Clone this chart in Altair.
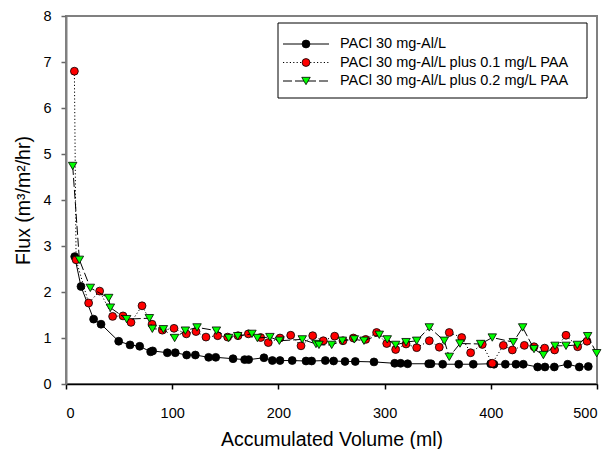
import altair as alt
import pandas as pd

# ---- data ----
series_names = [
    "PACl 30 mg-Al/L",
    "PACl 30 mg-Al/L plus 0.1 mg/L PAA",
    "PACl 30 mg-Al/L plus 0.2 mg/L PAA",
]

black_x = [8.2, 14.1, 26.0, 33.0, 49.6, 60.3, 69.4, 79.7, 81.6, 95.4, 102.9, 113.6, 121.8,
           134.3, 141.0, 157.3, 168.2, 172.0, 186.4, 194.3, 201.5, 213.0, 226.0, 231.3,
           244.2, 252.0, 262.7, 272.4, 290.0, 309.5, 315.1, 321.7, 341.5, 343.7, 354.7,
           369.8, 383.5, 399.9, 403.0, 413.7, 423.7, 430.6, 444.1, 451.0, 459.8, 472.4,
           483.3, 491.8]
black_y = [2.77, 2.12, 1.41, 1.30, 0.93, 0.85, 0.82, 0.70, 0.72, 0.68, 0.68, 0.63, 0.63,
           0.58, 0.58, 0.55, 0.53, 0.53, 0.57, 0.51, 0.51, 0.51, 0.50, 0.50,
           0.51, 0.50, 0.49, 0.49, 0.48, 0.45, 0.45, 0.44, 0.44, 0.44, 0.43,
           0.43, 0.43, 0.44, 0.43, 0.43, 0.43, 0.43, 0.37, 0.37, 0.37, 0.43,
           0.37, 0.38]

red_x = [7.9, 9.5, 21.3, 31.7, 43.9, 53.7, 61.2, 71.6, 81.0, 90.7, 101.7, 113.3, 122.4,
         131.8, 142.8, 152.2, 162.0, 171.7, 183.3, 190.5, 201.5, 211.6, 221.3, 232.3,
         242.3, 253.0, 260.8, 270.6, 282.2, 292.5, 302.0, 310.4, 320.2, 330.2, 342.1,
         351.5, 360.9, 372.6, 381.0, 392.0, 401.4, 411.8, 420.3, 431.6, 440.7, 450.7,
         460.1, 470.8, 481.8, 490.6]
red_y = [6.80, 2.70, 1.76, 2.02, 1.47, 1.48, 1.34, 1.70, 1.30, 1.17, 1.21, 1.09, 1.14,
         1.02, 1.05, 1.02, 1.05, 1.09, 1.01, 0.90, 1.00, 1.06, 0.83, 1.05,
         0.94, 1.04, 0.94, 1.00, 0.97, 1.12, 0.88, 0.75, 0.87, 0.79, 0.94,
         0.80, 1.12, 1.01, 0.68, 0.86, 0.45, 0.84, 0.74, 0.84, 0.81, 0.78,
         0.74, 1.06, 0.81, 0.93]

green_x = [6.3, 12.6, 22.9, 40.2, 41.8, 57.1, 78.5, 81.3, 91.7, 102.3, 112.4, 123.4, 141.6,
           153.2, 161.7, 175.1, 180.2, 192.0, 200.9, 222.5, 235.4, 238.2, 250.2, 260.2,
           271.5, 280.6, 295.0, 302.5, 310.4, 320.2, 330.2, 342.1, 356.2, 360.9, 371.0,
           390.5, 401.4, 421.2, 430.0, 440.7, 449.5, 460.5, 470.8, 481.5, 491.2, 499.7]
green_y = [4.74, 2.70, 2.09, 1.87, 1.66, 1.41, 1.43, 1.20, 1.19, 1.00, 1.16, 1.23, 1.16,
           1.00, 1.04, 1.09, 1.00, 1.02, 0.94, 0.97, 0.87, 0.85, 0.85, 0.94,
           0.97, 0.94, 1.07, 0.97, 0.85, 0.91, 0.94, 1.23, 0.94, 0.59, 0.88,
           0.87, 1.01, 0.91, 1.23, 0.76, 0.63, 0.83, 0.83, 0.85, 1.04, 0.67]

x_ticks = [0, 100, 200, 300, 400, 500]
y_ticks = [0, 1, 2, 3, 4, 5, 6, 7, 8]

FONT = "Liberation Sans"
W, H = 531, 368

xs = alt.Scale(domain=[0, 500], nice=False, zero=False)
ys = alt.Scale(domain=[0, 8], nice=False, zero=False)

xaxis = alt.Axis(values=x_ticks, format="d", title="Accumulated Volume (ml)", grid=False,
                 tickSize=5, tickColor="black", tickWidth=1.5, domainColor="black",
                 domainWidth=1.5, labelPadding=17, labelFont=FONT, labelFontSize=14.5,
                 labelColor="black", titleFont=FONT, titleFontSize=19.5,
                 titleFontWeight="normal", titleColor="black", titleBaseline="middle",
                 titleY=55, titleX=W / 2)
yaxis = alt.Axis(values=y_ticks, format="d", title="Flux (m³/m²/hr)", grid=False,
                 tickSize=5, tickColor="#666666", tickWidth=1.5, domainColor="#808080",
                 domainWidth=2, labelPadding=10, labelFont=FONT, labelFontSize=14.5,
                 labelColor="black", titleFont=FONT, titleFontSize=19.5,
                 titleFontWeight="normal", titleColor="black", titleBaseline="middle",
                 titleX=-43, titleY=H / 2, titleAngle=-90)


def series_layers(xv, yv, dash, shape, fill, size):
    df = pd.DataFrame({"x": xv, "y": yv})
    base = alt.Chart(df)
    enc = dict(x=alt.X("x:Q", scale=xs, axis=xaxis), y=alt.Y("y:Q", scale=ys, axis=yaxis))
    line_kwargs = dict(color="black", strokeWidth=1)
    if dash:
        line_kwargs["strokeDash"] = dash
    line = base.mark_line(**line_kwargs).encode(**enc)
    pts = base.mark_point(shape=shape, filled=True, fill=fill, stroke="black",
                          strokeWidth=0.8, size=size, opacity=1).encode(**enc)
    return [line, pts]


styles = [
    (None, "circle", "black", 62),
    ([1.2, 2.2], "circle", "#ff0000", 62),
    ([9, 3], "triangle-down", "#00ff00", 72),
]

layers = []
layers += series_layers(black_x, black_y, *styles[0])
layers += series_layers(red_x, red_y, *styles[1])
layers += series_layers(green_x, green_y, *styles[2])

# ---- legend box ----
one = alt.Data(values=[{"k": 1}])
layers.append(alt.Chart(one).mark_rect(fill="white", stroke="black", strokeWidth=1).encode(
    x=alt.value(212), x2=alt.value(521), y=alt.value(7), y2=alt.value(82)))
row_y = [28, 46.5, 65]
for name, (dash, shape, fill, size), ry in zip(series_names, styles, row_y):
    rk = dict(color="black", strokeWidth=1)
    if dash:
        rk["strokeDash"] = dash
    layers.append(alt.Chart(one).mark_rule(**rk).encode(
        x=alt.value(217), x2=alt.value(263), y=alt.value(ry)))
    layers.append(alt.Chart(one).mark_point(shape=shape, filled=True, fill=fill, stroke="black",
                                            strokeWidth=0.8, size=size, opacity=1).encode(
        x=alt.value(240), y=alt.value(ry)))
    layers.append(alt.Chart(one).mark_text(align="left", baseline="middle", font=FONT,
                                           fontSize=14.5, color="black").encode(
        x=alt.value(274), y=alt.value(ry), text=alt.value(name)))

chart = alt.layer(*layers).properties(
    width=W, height=H,
    autosize=alt.AutoSizeParams(type="none"),
    padding={"left": 58, "top": 8, "right": 6, "bottom": 65},
).configure_view(stroke="#808080", strokeWidth=2)

chart.save("out.html", embed_options={"renderer": "svg", "actions": False})
